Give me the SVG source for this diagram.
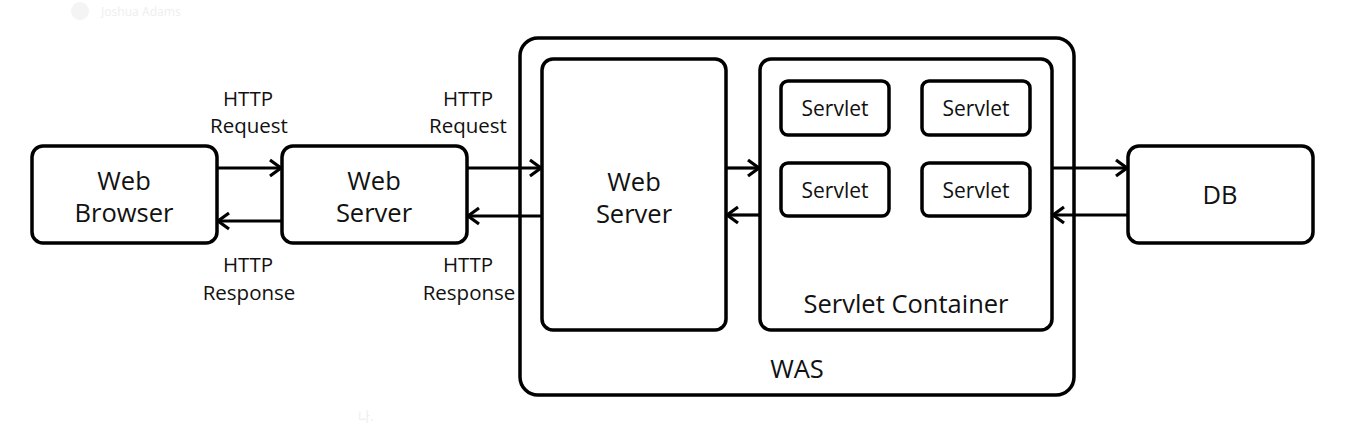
<svg xmlns="http://www.w3.org/2000/svg" width="1368" height="425" viewBox="0 0 1368 425">
<style>
.box{fill:#fff;stroke:#000;stroke-width:3.5}
.frame{fill:none;stroke:#000;stroke-width:3.5}
.t{font-family:"Open Sans","Noto Sans CJK KR",sans-serif;fill:#111;text-anchor:middle}
.big{font-size:25.5px}
.mid{font-size:21px}
.sm{font-size:20.5px}
.conn{stroke:#000;stroke-width:3.2;fill:none;marker-end:url(#arr)}
.wm{font-family:"Noto Sans","Noto Sans CJK KR",sans-serif;fill:#efefef}
</style>
<defs>
<marker id="arr" markerUnits="userSpaceOnUse" viewBox="0 0 16 20" refX="14" refY="10" markerWidth="16" markerHeight="20" orient="auto">
<path d="M3,2 L14,10 L3,18" fill="none" stroke="#000" stroke-width="3.2"/>
</marker>
</defs>
<rect width="1368" height="425" fill="#fff"/>
<g id="watermark">
<circle cx="80" cy="11" r="9" fill="#f4f4f4"/>
<text class="wm" x="101" y="16" font-size="12">Joshua Adams</text>
<text class="wm" x="358" y="421" font-size="13">나.</text>
</g>
<g id="was">
<rect class="frame" x="520" y="38" width="554" height="357" rx="18"/>
<text class="t big" x="797" y="378">WAS</text>
</g>
<g id="web-browser">
<rect class="box" x="32" y="146" width="185" height="97" rx="11"/>
<text class="t big" x="124" y="190">Web</text>
<text class="t big" x="124" y="222">Browser</text>
</g>
<g id="web-server-1">
<rect class="box" x="282" y="146" width="185" height="97" rx="11"/>
<text class="t big" x="374" y="190">Web</text>
<text class="t big" x="374" y="222">Server</text>
</g>
<g id="web-server-2">
<rect class="box" x="542" y="59" width="184" height="271" rx="11"/>
<text class="t big" x="634" y="191">Web</text>
<text class="t big" x="634" y="223">Server</text>
</g>
<g id="servlet-container">
<rect class="box" x="760" y="59" width="292" height="271" rx="11"/>
<text class="t big" x="906" y="313">Servlet Container</text>
</g>
<g id="servlet-1">
<rect class="box" x="781" y="81" width="108" height="54" rx="7"/>
<text class="t mid" x="835" y="116">Servlet</text>
</g>
<g id="servlet-2">
<rect class="box" x="922" y="81" width="108" height="54" rx="7"/>
<text class="t mid" x="976" y="116">Servlet</text>
</g>
<g id="servlet-3">
<rect class="box" x="781" y="163" width="108" height="53" rx="7"/>
<text class="t mid" x="835" y="198">Servlet</text>
</g>
<g id="servlet-4">
<rect class="box" x="922" y="163" width="108" height="53" rx="7"/>
<text class="t mid" x="976" y="198">Servlet</text>
</g>
<g id="db">
<rect class="box" x="1128" y="146" width="185" height="97" rx="11"/>
<text class="t big" x="1220" y="204">DB</text>
</g>
<g id="connectors">
<line class="conn" x1="218" y1="168" x2="281" y2="168"/>
<line class="conn" x1="281" y1="221" x2="218" y2="221"/>
<line class="conn" x1="468" y1="168" x2="541" y2="168"/>
<line class="conn" x1="541" y1="216" x2="468" y2="216"/>
<line class="conn" x1="727" y1="168" x2="759" y2="168"/>
<line class="conn" x1="759" y1="215" x2="727" y2="215"/>
<line class="conn" x1="1053" y1="168" x2="1127" y2="168"/>
<line class="conn" x1="1127" y1="215" x2="1053" y2="215"/>
</g>
<g id="labels">
<text class="t sm" x="248" y="106">HTTP</text>
<text class="t sm" x="249" y="133">Request</text>
<text class="t sm" x="248" y="272">HTTP</text>
<text class="t sm" x="249" y="300">Response</text>
<text class="t sm" x="468" y="106">HTTP</text>
<text class="t sm" x="468" y="133">Request</text>
<text class="t sm" x="468" y="272">HTTP</text>
<text class="t sm" x="469" y="300">Response</text>
</g>
</svg>
